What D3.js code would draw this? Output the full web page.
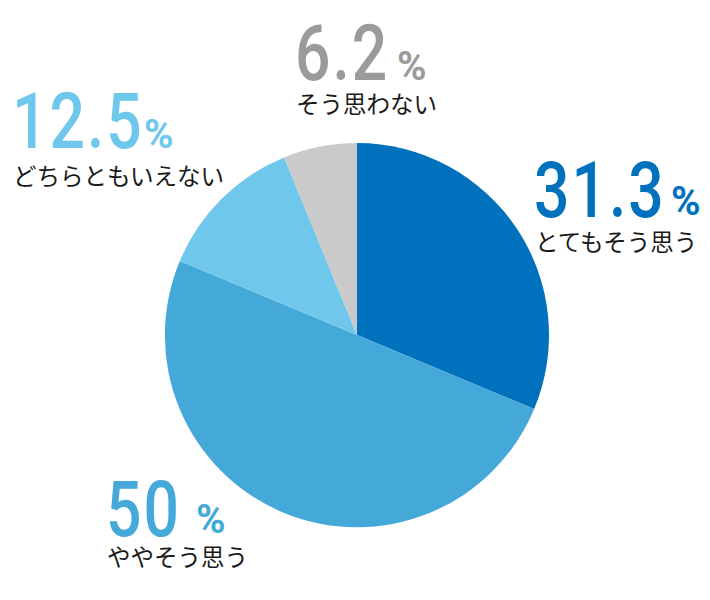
<!DOCTYPE html>
<html><head><meta charset="utf-8">
<script src="https://cdn.jsdelivr.net/npm/d3@7"></script>
<style>body{margin:0;background:#fff}</style>
</head><body>
<script>
const categories = ["とてもそう思う", "ややそう思う", "どちらともいえない", "そう思わない"];
const values = [31.3, 50, 12.5, 6.2];
const valueLabels = ["31.3", "50", "12.5", "6.2"];
const colors = ["#0071bc", "#44a9d9", "#6fc8ec", "#cacaca"];
const numColors = ["#0071bc", "#44a9d9", "#6fc8ec", "#9b9b9b"];

// label anchor positions (number x, number baseline, % x, % baseline, label baseline)
const layout = [
  {x: 534, ny: 217, px: 671, py: 215, ly: 251},
  {x: 106, ny: 536, px: 196, py: 533, ly: 566},
  {x: 12, ny: 148, px: 144, py: 148, ly: 185},
  {x: 295, ny: 80, px: 397, py: 80, ly: 113}
];

const W = 710, H = 600;
const svg = d3.select("body").append("svg").attr("width", W).attr("height", H);
const cx = 357, cy = 335, R = 192;

const pie = d3.pie().sort(null).value(d => d);
const arc = d3.arc().innerRadius(0).outerRadius(R);
svg.append("g").attr("transform", `translate(${cx},${cy})`)
  .selectAll("path").data(pie(values)).join("path")
  .attr("d", arc).attr("fill", (d, i) => colors[i]);

categories.forEach((c, i) => {
  const L = layout[i];
  const g = svg.append("g");
  g.append("text")
    .attr("x", 0).attr("y", 0)
    .attr("transform", `translate(${L.x},${L.ny}) scale(0.8,1)`)
    .attr("font-family", "Roboto, sans-serif").attr("font-weight", 500)
    .attr("font-size", 78).attr("letter-spacing", 2.5)
    .attr("fill", numColors[i]).text(valueLabels[i]);
  g.append("text")
    .attr("x", L.px).attr("y", L.py)
    .attr("font-family", "Roboto, sans-serif").attr("font-weight", 700)
    .attr("font-size", 40)
    .attr("fill", numColors[i]).text("%");
  g.append("text")
    .attr("x", L.x + 1).attr("y", L.ly)
    .attr("font-family", "'Noto Sans CJK JP', sans-serif").attr("font-weight", 400)
    .attr("font-size", 23.5).attr("fill", "#1a1a1a")
    .text(c);
});
</script>
</body></html>
